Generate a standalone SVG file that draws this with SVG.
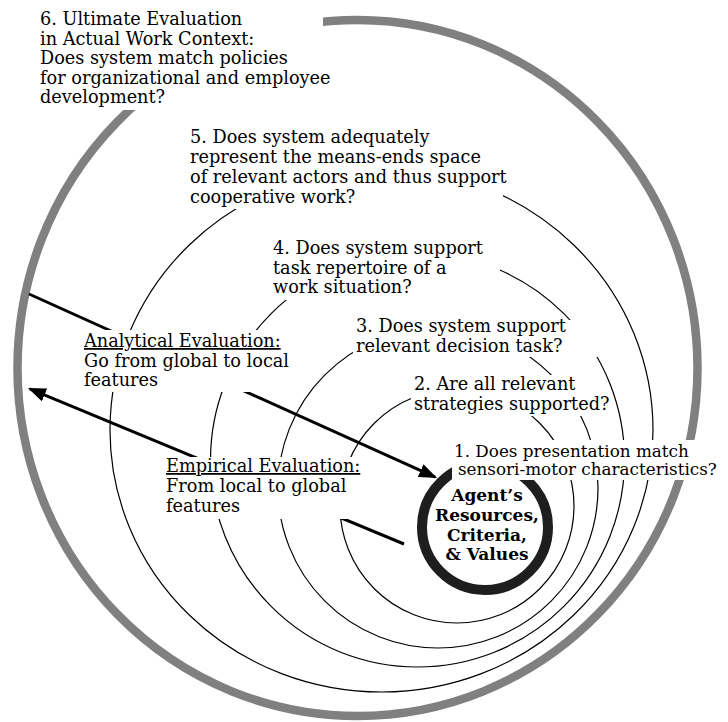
<svg xmlns="http://www.w3.org/2000/svg" width="728" height="722" viewBox="0 0 728 722">
<style>
.t{font-family:"DejaVu Serif","Liberation Serif",serif;font-size:17.7px;fill:#000}
.s{font-size:16.8px}
.b{font-family:"DejaVu Serif","Liberation Serif",serif;font-size:17px;font-weight:bold;fill:#000;text-anchor:middle}
.u{text-decoration:underline}
.bg{fill:#fff;stroke:none}
.arc{fill:none;stroke:#000;stroke-width:1.2}
.arrow{stroke:#000;stroke-width:3;fill:none}
</style>
<defs>
<marker id="ah" markerUnits="userSpaceOnUse" markerWidth="20" markerHeight="14" refX="16" refY="7" orient="auto">
<path d="M0,0 L18,7 L0,14 z" fill="#000"/>
</marker>
</defs>
<g id="rings">
<ellipse cx="357.5" cy="368" rx="340" ry="348" fill="none" stroke="#808080" stroke-width="8.5"/>
<ellipse class="arc" cx="381.5" cy="430" rx="271.5" ry="262"/>
<circle class="arc" cx="417.5" cy="460" r="207"/>
<circle class="arc" cx="438" cy="488" r="160"/>
<circle class="arc" cx="457" cy="506" r="117"/>
</g>
<g id="connectors">
<line class="arrow" x1="29" y1="294" x2="435.2" y2="477.2" marker-end="url(#ah)"/>
<line class="arrow" x1="404" y1="544" x2="29.8" y2="388.8" marker-end="url(#ah)"/>
</g>
<g id="agent">
<circle cx="485" cy="527" r="63" fill="none" stroke="#1e1e1e" stroke-width="10"/>
<text class="b" x="487" y="501">Agent’s</text>
<text class="b" x="487" y="521">Resources,</text>
<text class="b" x="487" y="541">Criteria,</text>
<text class="b" x="487" y="560">&amp; Values</text>
</g>
<g id="q6">
<rect class="bg" x="35" y="0" width="288" height="110"/>
<text class="t" x="40" y="25">6. Ultimate Evaluation</text>
<text class="t" x="40" y="44.5">in Actual Work Context:</text>
<text class="t" x="40" y="64">Does system match policies</text>
<text class="t" x="40" y="84">for organizational and employee</text>
<text class="t" x="40" y="103">development?</text>
</g>
<g id="q5">
<rect class="bg" x="185" y="125" width="318" height="84"/>
<text class="t" x="190" y="143">5. Does system adequately</text>
<text class="t" x="190" y="163">represent the means-ends space</text>
<text class="t" x="190" y="183">of relevant actors and thus support</text>
<text class="t" x="190" y="203">cooperative work?</text>
</g>
<g id="q4">
<rect class="bg" x="268" y="238" width="232" height="62"/>
<text class="t" x="273" y="254">4. Does system support</text>
<text class="t" x="273" y="274">task repertoire of a</text>
<text class="t" x="273" y="293">work situation?</text>
</g>
<g id="q3">
<rect class="bg" x="353" y="320" width="245" height="37"/>
<text class="t" x="356" y="332">3. Does system support</text>
<text class="t" x="356" y="352">relevant decision task?</text>
</g>
<g id="q2">
<rect class="bg" x="411" y="375" width="194" height="41"/>
<text class="t" x="414" y="390">2. Are all relevant</text>
<text class="t" x="414" y="410">strategies supported?</text>
</g>
<g id="q1">
<rect class="bg" x="452" y="440" width="276" height="40"/>
<text class="t s" x="454" y="457">1. Does presentation match</text>
<text class="t s" x="458" y="475">sensori-motor characteristics?</text>
</g>
<g id="analytical">
<rect class="bg" x="80" y="330" width="212" height="62"/>
<text class="t u" x="84" y="347">Analytical Evaluation:</text>
<text class="t" x="84" y="367">Go from global to local</text>
<text class="t" x="84" y="386">features</text>
</g>
<g id="empirical">
<rect class="bg" x="160" y="457" width="206" height="62"/>
<text class="t u" x="166" y="472">Empirical Evaluation:</text>
<text class="t" x="166" y="492">From local to global</text>
<text class="t" x="166" y="512">features</text>
</g>
</svg>
